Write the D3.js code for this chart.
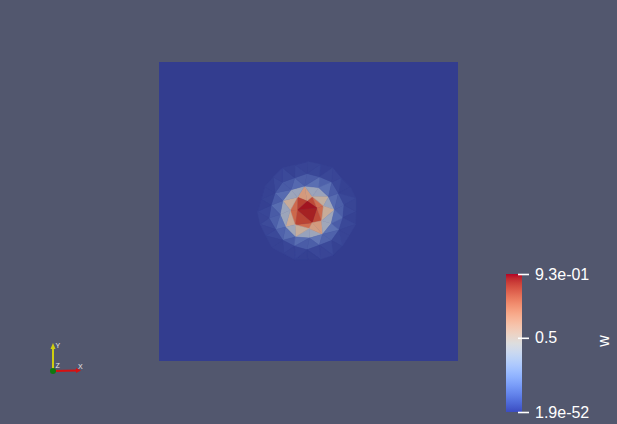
<!DOCTYPE html>
<html><head><meta charset="utf-8">
<script src="https://cdn.jsdelivr.net/npm/d3@7"></script>
<style>html,body{margin:0;padding:0;background:#52576e;overflow:hidden}</style>
</head><body>
<svg id="c" width="617" height="424"></svg>
<script>
// Mesh nodes (data coordinates in the unit square) and field value w at each node
const nodeX = [0.495,0.462,0.512,0.528,
 0.550,0.513,0.463,0.439,0.455,0.502,0.544,
 0.587,0.567,0.534,0.487,0.442,0.414,0.405,0.423,0.456,0.503,0.547,0.576,
 0.619,0.600,0.578,0.537,0.495,0.454,0.413,0.388,0.375,0.368,0.390,0.414,0.453,0.495,0.536,0.577,0.602,0.615,
 0.659,0.659,0.640,0.610,0.582,0.540,0.497,0.455,0.413,0.382,0.353,0.342,0.329,0.338,0.357,0.377,0.416,0.454,0.497,0.540,0.582,0.613,0.636,0.658];
const nodeY = [0.535,0.505,0.462,0.512,
 0.518,0.550,0.548,0.504,0.456,0.443,0.469,
 0.506,0.549,0.580,0.585,0.573,0.536,0.490,0.448,0.415,0.411,0.424,0.460,
 0.522,0.561,0.599,0.616,0.627,0.613,0.598,0.562,0.521,0.478,0.440,0.404,0.384,0.372,0.387,0.403,0.438,0.479,
 0.500,0.544,0.583,0.613,0.647,0.658,0.667,0.656,0.646,0.615,0.583,0.541,0.500,0.457,0.419,0.380,0.359,0.339,0.339,0.340,0.354,0.384,0.420,0.457];
const nodeW = [0.93,0.91,0.89,0.90,
 0.66,0.63,0.68,0.64,0.70,0.62,0.67,
 0.19,0.16,0.21,0.18,0.15,0.20,0.17,0.21,0.16,0.19,0.22,0.17,
 0.05,0.03,0.06,0.02,0.05,0.03,0.06,0.03,0.02,0.05,0.06,0.03,0.04,0.02,0.06,0.03,0.05,0.03,
 0.004,0.006,0.003,0.005,0.002,0.006,0.004,0.005,0.003,0.004,0.006,0.003,0.005,0.002,0.004,0.003,0.005,0.004,0.006,0.003,0.004,0.006,0.003,0.005];

const wMin = 1.9e-52, wMax = 0.93;
const tickValues = [wMin, 0.5, wMax];
const tickLabels = ["1.9e-52", "0.5", "9.3e-01"];
const fieldName = "w";

// Cool to Warm colour map table
const cmapR = [59,68,77,87,98,108,119,130,141,152,163,174,184,194,204,213,221,229,236,241,245,247,247,247,244,241,236,229,222,213,203,192,180];
const cmapG = [76,90,104,117,130,142,154,165,176,185,194,201,208,213,217,219,221,216,211,204,196,187,177,166,154,141,127,112,96,80,62,40,4];
const cmapB = [192,204,215,225,234,241,247,251,254,255,255,253,249,244,238,230,221,209,197,185,173,160,148,135,123,111,99,88,77,66,56,47,38];

const W = 617, H = 424;
const svg = d3.select("#c");
svg.append("rect").attr("width", W).attr("height", H).attr("fill", "#52576e");

const cmapStops = d3.range(cmapR.length).map(i => i / (cmapR.length - 1));
const rgbAt = (t, lit) => {
  t = Math.max(0, Math.min(1, t));
  const f = t * (cmapR.length - 1);
  const i = Math.min(cmapR.length - 2, Math.floor(f)), u = f - i;
  let r = cmapR[i] + (cmapR[i+1] - cmapR[i]) * u;
  let g = cmapG[i] + (cmapG[i+1] - cmapG[i]) * u;
  let b = cmapB[i] + (cmapB[i+1] - cmapB[i]) * u;
  if (lit) { r *= 0.86; g *= 0.80; b *= 0.745; }
  return d3.rgb(r, g, b).formatHex();
};
const norm = d3.scaleLinear().domain([wMin, wMax]).range([0, 1]);

// plot area
const x = d3.scaleLinear().domain([0, 1]).range([159, 458]);
const y = d3.scaleLinear().domain([0, 1]).range([361, 62]);

svg.append("rect")
  .attr("x", x(0)).attr("y", y(1))
  .attr("width", x(1) - x(0)).attr("height", y(0) - y(1))
  .attr("fill", rgbAt(0, true));

const pts = nodeX.map((d, i) => [x(d), y(nodeY[i])]);
const del = d3.Delaunay.from(pts);
const tri = del.triangles;
const cells = [];
for (let k = 0; k < tri.length; k += 3) {
  const ids = [tri[k], tri[k+1], tri[k+2]];
  cells.push({ ids, w: d3.mean(ids, i => nodeW[i]) });
}
svg.append("g").selectAll("path").data(cells).join("path")
  .attr("d", c => "M" + c.ids.map(i => pts[i][0].toFixed(2) + "," + pts[i][1].toFixed(2)).join("L") + "Z")
  .attr("fill", c => rgbAt(norm(c.w), true))
  .attr("stroke", c => rgbAt(norm(c.w), true))
  .attr("stroke-width", 0.5)
  .attr("stroke-linejoin", "round");

// colour bar
const cb = d3.scaleLinear().domain([wMin, wMax]).range([412, 274]);
const defs = svg.append("defs");
const grad = defs.append("linearGradient").attr("id", "cbg")
  .attr("x1", 0).attr("y1", 1).attr("x2", 0).attr("y2", 0);
cmapStops.forEach((s, i) => grad.append("stop").attr("offset", s).attr("stop-color", rgbAt(s, false)));
svg.append("rect").attr("x", 506).attr("y", cb(wMax)).attr("width", 16)
  .attr("height", cb(wMin) - cb(wMax)).attr("fill", "url(#cbg)");

const axis = d3.axisRight(cb).tickValues(tickValues)
  .tickFormat((d, i) => tickLabels[i]).tickSize(11).tickPadding(6);
const gAx = svg.append("g").attr("transform", "translate(518,0)").call(axis);
gAx.select(".domain").remove();
gAx.selectAll(".tick line").attr("stroke", "#ffffff").attr("stroke-width", 1.6);
gAx.selectAll(".tick text").attr("fill", "#ffffff")
  .style("font-family", "'Liberation Sans', Arial, sans-serif").style("font-size", "16px");

svg.append("text").attr("transform", "translate(609,341) rotate(-90)")
  .attr("text-anchor", "middle").attr("fill", "#ffffff")
  .style("font-family", "'Liberation Sans', Arial, sans-serif").style("font-size", "16px")
  .text(fieldName);

// orientation triad
const tri3 = svg.append("g");
const ox = 53, oy = 371;
tri3.append("line").attr("x1", ox).attr("y1", oy).attr("x2", ox).attr("y2", 346)
  .attr("stroke", "#cfcf10").attr("stroke-width", 2);
tri3.append("path").attr("d", `M${ox-2.5},${349}L${ox},${343}L${ox+2.5},${349}Z`).attr("fill", "#cfcf10");
tri3.append("line").attr("x1", ox).attr("y1", oy).attr("x2", 78).attr("y2", 370.5)
  .attr("stroke", "#d81010").attr("stroke-width", 2);
tri3.append("path").attr("d", `M${76},${368}L${81},${370.5}L${76},${373}Z`).attr("fill", "#d81010");
tri3.append("circle").attr("cx", ox).attr("cy", oy).attr("r", 3).attr("fill", "#107810");
const lab = (tx, ty, s) => tri3.append("text").attr("x", tx).attr("y", ty).attr("fill", "#e8e8e8")
  .style("font-family", "'Liberation Sans', Arial, sans-serif").style("font-size", "7px").text(s);
lab(55.5, 348, "Y");
lab(55.5, 368, "Z");
lab(78, 369, "X");
</script>
</body></html>
